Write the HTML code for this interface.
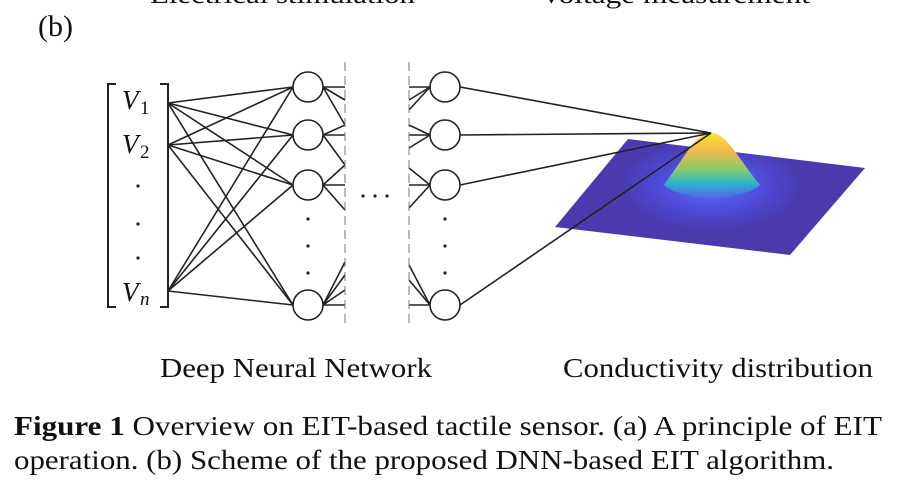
<!DOCTYPE html>
<html><head><meta charset="utf-8"><style>
html,body{margin:0;padding:0;background:#fff;width:901px;height:486px;overflow:hidden}
svg{display:block}
text{font-family:"Liberation Serif",serif;fill:#111}
</style></head><body>
<svg width="901" height="486" viewBox="0 0 901 486" xmlns="http://www.w3.org/2000/svg">
<defs>
<radialGradient id="pk" cx="711" cy="185" r="90" gradientUnits="userSpaceOnUse" gradientTransform="translate(711 185) scale(1 0.5) translate(-711 -185)">
<stop offset="0" stop-color="#5c70f8"/><stop offset="0.6" stop-color="#4e4ad8"/><stop offset="1" stop-color="#4a3aae"/>
</radialGradient>
<linearGradient id="hill" x1="0" y1="133" x2="0" y2="205" gradientUnits="userSpaceOnUse">
<stop offset="0" stop-color="#f5e62a"/><stop offset="0.25" stop-color="#f2b84a"/><stop offset="0.5" stop-color="#8cc96a"/><stop offset="0.7" stop-color="#2ab8c8"/><stop offset="1" stop-color="#5a6cf5" stop-opacity="0"/>
</linearGradient>
</defs>
<text x="150" y="3" font-size="26" textLength="265" lengthAdjust="spacingAndGlyphs">Electrical stimulation</text>
<text x="540" y="3" font-size="26" textLength="270" lengthAdjust="spacingAndGlyphs">Voltage measurement</text>
<text x="38" y="36" font-size="30">(b)</text>

<polygon points="628,139 865,168 790,255 555,227" fill="url(#pk)"/>
<path d="M664,185 C686,155 696,133 711,133 C726,133 736,155 760,185 C740,202 684,202 664,185 Z" fill="url(#hill)"/>

<g stroke="#222" stroke-width="2" fill="none">
<path d="M116,84 H108 V307 H116"/>
<path d="M160,84 H168 V307 H160"/>
</g>
<g font-style="italic" font-size="27">
<text x="122" y="109">V</text><text x="140" y="114" font-style="normal" font-size="19">1</text>
<text x="122" y="153">V</text><text x="140" y="158" font-style="normal" font-size="19">2</text>
<text x="122" y="301">V</text><text x="140" y="305" font-size="19">n</text>
</g>
<g fill="#222">
<circle cx="138" cy="186" r="1.6"/><circle cx="138" cy="224" r="1.6"/><circle cx="138" cy="258" r="1.6"/>
<circle cx="308" cy="219" r="1.6"/><circle cx="308" cy="246" r="1.6"/><circle cx="308" cy="273" r="1.6"/>
<circle cx="445" cy="219" r="1.6"/><circle cx="445" cy="246" r="1.6"/><circle cx="445" cy="273" r="1.6"/>
<circle cx="363" cy="196" r="1.6"/><circle cx="375" cy="196" r="1.6"/><circle cx="387" cy="196" r="1.6"/>
</g>
<g stroke="#222" stroke-width="1.6">
<line x1="168" y1="103" x2="293" y2="87"/><line x1="168" y1="103" x2="293" y2="135"/><line x1="168" y1="103" x2="293" y2="185"/><line x1="168" y1="103" x2="293" y2="305"/>
<line x1="168" y1="145" x2="293" y2="87"/><line x1="168" y1="145" x2="293" y2="135"/><line x1="168" y1="145" x2="293" y2="185"/><line x1="168" y1="145" x2="293" y2="305"/>
<line x1="168" y1="291" x2="293" y2="87"/><line x1="168" y1="291" x2="293" y2="135"/><line x1="168" y1="291" x2="293" y2="185"/><line x1="168" y1="291" x2="293" y2="305"/>
<line x1="323" y1="87" x2="345" y2="87"/><line x1="323" y1="87" x2="345" y2="100"/><line x1="323" y1="87" x2="345" y2="125"/>
<line x1="323" y1="135" x2="345" y2="135"/><line x1="323" y1="135" x2="345" y2="125"/><line x1="323" y1="135" x2="345" y2="165"/>
<line x1="323" y1="185" x2="345" y2="185"/><line x1="323" y1="185" x2="345" y2="165"/><line x1="323" y1="185" x2="345" y2="210"/>
<line x1="323" y1="305" x2="345" y2="305"/><line x1="323" y1="305" x2="345" y2="262"/><line x1="323" y1="305" x2="345" y2="275"/><line x1="323" y1="305" x2="345" y2="290"/>
<line x1="409" y1="87" x2="430" y2="87"/><line x1="409" y1="100" x2="430" y2="87"/><line x1="409" y1="110" x2="430" y2="87"/>
<line x1="409" y1="135" x2="430" y2="135"/><line x1="409" y1="125" x2="430" y2="135"/><line x1="409" y1="148" x2="430" y2="135"/>
<line x1="409" y1="185" x2="430" y2="185"/><line x1="409" y1="168" x2="430" y2="185"/><line x1="409" y1="208" x2="430" y2="185"/>
<line x1="409" y1="305" x2="430" y2="305"/><line x1="409" y1="265" x2="430" y2="305"/><line x1="409" y1="280" x2="430" y2="305"/>
<line x1="460" y1="87" x2="711" y2="133"/><line x1="460" y1="135" x2="711" y2="133"/><line x1="460" y1="185" x2="711" y2="133"/><line x1="460" y1="305" x2="711" y2="133"/>
</g>
<g stroke="#777" stroke-width="1" stroke-dasharray="9,5">
<line x1="345" y1="62" x2="345" y2="328"/><line x1="409" y1="62" x2="409" y2="328"/>
</g>
<g fill="#fff" stroke="#222" stroke-width="1.6">
<circle cx="308" cy="87" r="15"/><circle cx="308" cy="135" r="15"/><circle cx="308" cy="185" r="15"/><circle cx="308" cy="305" r="15"/>
<circle cx="445" cy="87" r="15"/><circle cx="445" cy="135" r="15"/><circle cx="445" cy="185" r="15"/><circle cx="445" cy="305" r="15"/>
</g>
<text x="160" y="377" font-size="27" textLength="272" lengthAdjust="spacingAndGlyphs">Deep Neural Network</text>
<text x="563" y="377" font-size="27" textLength="310" lengthAdjust="spacingAndGlyphs">Conductivity distribution</text>
<text x="14" y="435" font-size="27" textLength="868" lengthAdjust="spacingAndGlyphs"><tspan font-weight="bold">Figure 1</tspan> Overview on EIT-based tactile sensor. (a) A principle of EIT</text>
<text x="14" y="469" font-size="27" textLength="820" lengthAdjust="spacingAndGlyphs">operation.  (b) Scheme of the proposed DNN-based EIT algorithm.</text>
</svg>
</body></html>
